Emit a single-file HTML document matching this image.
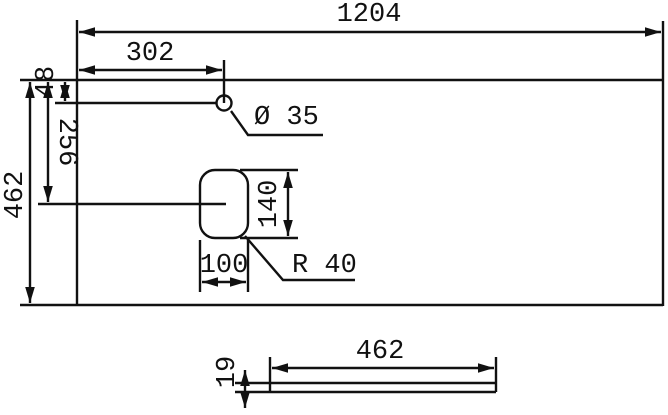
<!DOCTYPE html>
<html><head><style>html,body{margin:0;padding:0;background:#fff}svg{display:block}text{font-family:"Liberation Mono",monospace;font-size:27px;fill:#111}</style></head>
<body>
<svg width="668" height="415" viewBox="0 0 668 415" xmlns="http://www.w3.org/2000/svg">
<defs><marker id="a" viewBox="0 0 10 6" refX="10" refY="3" markerWidth="8" markerHeight="4" orient="auto-start-reverse"><path d="M0,0L10,3L0,6z" fill="#111"/></marker></defs>
<g stroke="#111" stroke-width="2.4" fill="none">
<line x1="77" y1="20" x2="77" y2="306"/>
<line x1="663" y1="21" x2="663" y2="306"/>
<line x1="20" y1="80" x2="663" y2="80"/>
<line x1="20" y1="305" x2="663" y2="305"/>
<line x1="79" y1="32" x2="661" y2="32" marker-start="url(#a)" marker-end="url(#a)"/>
<line x1="79" y1="70" x2="222" y2="70" marker-start="url(#a)" marker-end="url(#a)"/>
<line x1="224" y1="60" x2="224" y2="103"/>
<circle cx="224" cy="103" r="7.5"/>
<line x1="55" y1="103" x2="216" y2="103"/>
<polyline points="231,111 248,135 323,135"/>
<line x1="65" y1="82" x2="65" y2="101" marker-start="url(#a)" marker-end="url(#a)"/>
<line x1="48" y1="82" x2="48" y2="202" marker-start="url(#a)" marker-end="url(#a)"/>
<line x1="30" y1="82" x2="30" y2="303" marker-start="url(#a)" marker-end="url(#a)"/>
<rect x="200" y="170" width="48" height="68" rx="15" ry="15"/>
<line x1="38" y1="204" x2="226" y2="204"/>
<line x1="240" y1="170" x2="298" y2="170"/>
<line x1="240" y1="238" x2="298" y2="238"/>
<line x1="288" y1="172" x2="288" y2="236" marker-start="url(#a)" marker-end="url(#a)"/>
<line x1="200" y1="240" x2="200" y2="292"/>
<line x1="248" y1="240" x2="248" y2="292"/>
<line x1="202" y1="282" x2="246" y2="282" marker-start="url(#a)" marker-end="url(#a)"/>
<polyline points="245,236 283,280 355,280"/>
<line x1="235" y1="383" x2="496" y2="383"/>
<line x1="235" y1="392" x2="496" y2="392"/>
<line x1="270" y1="357" x2="270" y2="392"/>
<line x1="496" y1="357" x2="496" y2="392"/>
<line x1="272" y1="368" x2="494" y2="368" marker-start="url(#a)" marker-end="url(#a)"/>
<line x1="245" y1="370" x2="245" y2="408" marker-start="url(#a)" marker-end="url(#a)"/>
</g>
<text x="369" y="21" text-anchor="middle">1204</text>
<text x="150" y="60" text-anchor="middle">302</text>
<text x="254" y="124">Ø 35</text>
<text x="292" y="272">R 40</text>
<text x="224" y="272" text-anchor="middle">100</text>
<text x="380" y="358" text-anchor="middle">462</text>
<text transform="translate(22,195) rotate(-90)" text-anchor="middle">462</text>
<text transform="translate(53,82) rotate(-90)" text-anchor="middle">48</text>
<text transform="translate(60,142) rotate(90)" text-anchor="middle">256</text>
<text transform="translate(276,204) rotate(-90)" text-anchor="middle">140</text>
<text transform="translate(234,372) rotate(-90)" text-anchor="middle">19</text>
</svg>
</body></html>
